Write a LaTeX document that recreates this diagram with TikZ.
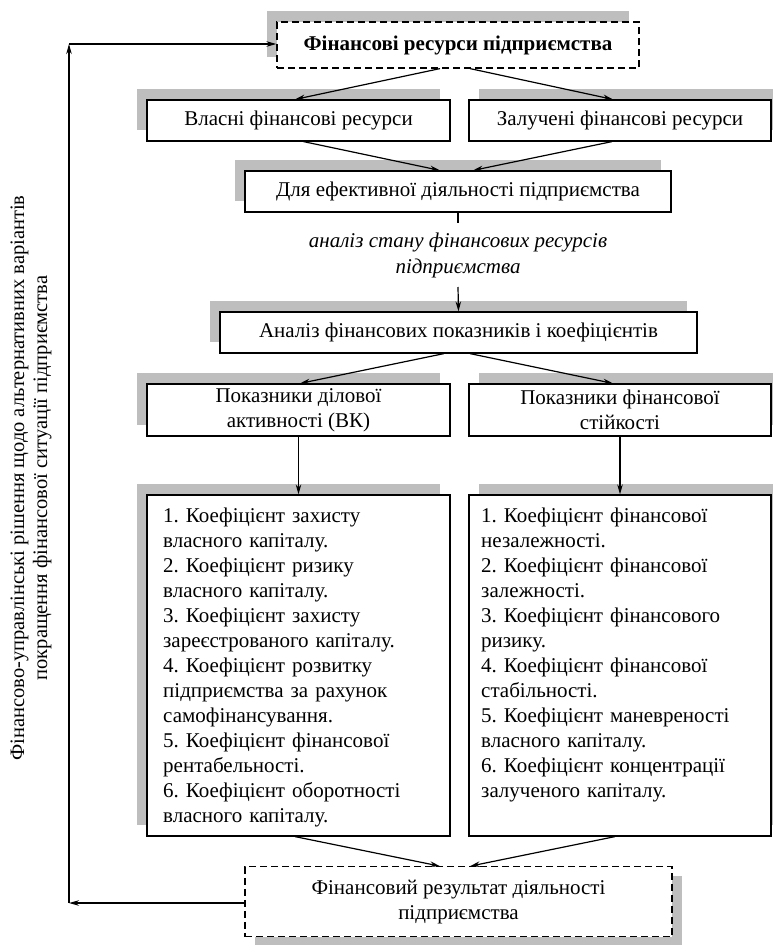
\documentclass[tikz,border=0pt]{standalone}
\usepackage{fontspec}
\setmainfont{Liberation Serif}
\usetikzlibrary{arrows.meta,shadows}
\definecolor{shadowgrey}{RGB}{190,190,190}
\begin{document}
\frenchspacing
\begin{tikzpicture}[x=1pt,y=-1pt,
  font=\fontsize{21}{25}\selectfont,
  box/.style={draw=black, line width=1.2pt, fill=white, inner sep=0pt, align=center},
  dbox/.style={box, dash pattern=on 7pt off 4pt},
  shUL/.style={drop shadow={shadow xshift=-10pt, shadow yshift=11pt, fill=shadowgrey, opacity=1}},
  shUR/.style={drop shadow={shadow xshift=10pt, shadow yshift=11pt, fill=shadowgrey, opacity=1}},
  shDR/.style={drop shadow={shadow xshift=10pt, shadow yshift=-9pt, fill=shadowgrey, opacity=1}},
  arr/.style={line width=1.2pt, -{Stealth[length=10pt, width=5.5pt]}},
  ln/.style={line width=1.2pt},
  lst/.style={anchor=north west, inner sep=0pt, align=left, text width=285pt}
]
\useasboundingbox (0,0) rectangle (773,945);

% boxes
\node[dbox, shUL, minimum width=362pt, minimum height=46pt] (top) at (458,45) {\bfseries Фінансові ресурси підприємства};
\node[box, shUL, minimum width=303pt, minimum height=41pt] (vl) at (298.5,120.5) {Власні фінансові ресурси};
\node[box, shUR, minimum width=302pt, minimum height=41pt] (zl) at (620,120.5) {Залучені фінансові ресурси};
\node[box, shUL, minimum width=426pt, minimum height=41pt] (dl) at (458,191.5) {Для ефективної діяльності підприємства};
\node[box, shUL, minimum width=477pt, minimum height=41pt] (an) at (458.5,332.5) {Аналіз фінансових показників і коефіцієнтів};
\node[box, shUL, minimum width=303pt, minimum height=52pt] (p1) at (298.5,410) {Показники ділової\\активності (ВК)};
\node[box, shUR, minimum width=302pt, minimum height=52pt] (p2) at (620,410) {Показники фінансової\\стійкості};
\node[box, shUL, minimum width=303pt, minimum height=341pt] (l1) at (298.5,665.5) {};
\node[box, shUR, minimum width=302pt, minimum height=341pt] (l2) at (620,665.5) {};
\node[dbox, shDR, minimum width=427pt, minimum height=70pt] (bot) at (458.5,901.75) {Фінансовий результат діяльності\\підприємства};

% list texts
\node[lst] (t1) at (163,508) {1. Коефіцієнт захисту\\власного капіталу.\\2. Коефіцієнт ризику\\власного капіталу.\\3. Коефіцієнт захисту\\зареєстрованого капіталу.\\4. Коефіцієнт розвитку\\підприємства за рахунок\\самофінансування.\\5. Коефіцієнт фінансової\\рентабельності.\\6. Коефіцієнт оборотності\\власного капіталу.};
\node[lst] (t2) at (481,508) {1. Коефіцієнт фінансової\\незалежності.\\2. Коефіцієнт фінансової\\залежності.\\3. Коефіцієнт фінансового\\ризику.\\4. Коефіцієнт фінансової\\стабільності.\\5. Коефіцієнт маневреності\\власного капіталу.\\6. Коефіцієнт концентрації\\залученого капіталу.};

% italic label
\node[align=center, font=\fontsize{21}{26}\selectfont\itshape] (lbl) at (458,255) {аналіз стану фінансових ресурсів\\підприємства};
\coordinate (c1) at (458,223);
\coordinate (c2) at (458,287);

% rotated left text
\node[rotate=90, align=center, font=\fontsize{20.5}{23}\selectfont] (side) at (31,478) {Фінансово-управлінські рішення щодо альтернативних варіантів\\покращення фінансової ситуації підприємства};

% connectors
\draw[arr] ([xshift=-18pt]top.south) -- ([xshift=-3.5pt]vl.north);
\draw[arr] ([xshift=12pt]top.south) -- ([xshift=-7pt]zl.north);
\draw[arr] ([xshift=5pt]vl.south) -- ([xshift=-18pt]dl.north);
\draw[arr] ([xshift=-8pt]zl.south) -- ([xshift=15pt]dl.north);
\draw[ln] (dl.south) -- (c1);
\draw[arr] (c2) -- (an.north);
\draw[arr] ([xshift=-14.5pt]an.south) -- ([xshift=1.5pt]p1.north);
\draw[arr] ([xshift=11.5pt]an.south) -- ([xshift=-7pt]p2.north);
\draw[arr] (p1.south) -- (l1.north);
\draw[arr] (p2.south) -- (l2.north);
\draw[arr] ([xshift=-3.5pt]l1.south) -- ([xshift=-18.5pt]bot.north);
\draw[arr] ([xshift=-5pt]l2.south) -- ([xshift=11.5pt]bot.north);

% feedback loop
\coordinate (fb1) at (69,903);
\coordinate (fb2) at (69,44);
\draw[arr] (bot.west |- fb1) -- (fb1);
\draw[arr] (fb1) -- (fb2);
\draw[arr] (fb2) -- (top.west |- fb2);
\end{tikzpicture}
\end{document}
